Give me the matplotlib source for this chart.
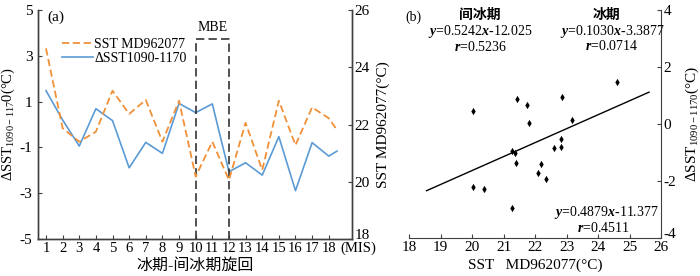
import matplotlib
matplotlib.use('Agg')
import numpy as np
import matplotlib.pyplot as plt

plt.rcParams['font.family'] = ['Liberation Serif', 'Noto Sans CJK SC']
plt.rcParams['mathtext.fontset'] = 'custom'
plt.rcParams['mathtext.rm'] = 'Liberation Serif'
plt.rcParams['mathtext.it'] = 'Liberation Serif:italic:bold'
plt.rcParams['axes.unicode_minus'] = False

# Panel (a): glacial-interglacial cycles
cycle = [1, 2, 3, 4, 5, 6, 7, 8, 9, 10, 11, 12, 13, 14, 15, 16, 17, 18, 18.5]
sst_md962077 = [24.66, 21.87, 21.40, 21.75, 23.18, 22.37, 22.86, 21.40, 22.83, 20.18,
                21.40, 20.06, 22.06, 20.41, 22.83, 21.28, 22.60, 22.22, 21.81]
dsst_1090_1170 = [1.48, 0.20, -0.94, 0.69, 0.17, -1.89, -0.78, -1.26, 0.92, 0.52,
                  0.90, -2.06, -1.67, -2.21, -0.53, -2.89, -0.79, -1.38, -1.16]
cycle_ticks = list(range(1, 19))
mbe_start, mbe_end, mbe_top = 10, 12, 3.72

# Panel (b): scatter of SST vs dSST
scatter_sst = [20.03, 21.41, 21.74, 21.81, 21.27, 21.37, 21.39, 22.18, 22.08, 22.36,
               20.03, 20.38, 21.25, 24.60, 22.84, 23.16, 22.81, 22.81, 22.61]
scatter_dsst = [0.46, 0.90, 0.69, 0.05, -0.92, -1.01, -1.34, -1.40, -1.69, -1.93,
                -2.18, -2.27, -2.94, 1.48, 0.94, 0.16, -0.53, -0.80, -0.82]
fit_slope, fit_intercept = 0.4879, -11.377
fit_x = [18.55, 25.62]

orange = '#F0913A'
blue = '#5B9BD5'
spine_col = '#404040'

fig = plt.figure(figsize=(7, 2.76), dpi=100)

# ---- panel (a)
ax1 = fig.add_axes([0.0543, 0.134, 0.4486, 0.8297])
ax2 = ax1.twinx()

l_blue, = ax1.plot(cycle, dsst_1090_1170, color=blue, linewidth=1.2)
l_orange, = ax2.plot(cycle, sst_md962077, color=orange, linewidth=1.3, dashes=(4, 2))

ax1.plot([mbe_start, mbe_start, mbe_end, mbe_end], [-5, mbe_top, mbe_top, -5],
         color='#333333', linewidth=1.2, dashes=(5, 2.5), clip_on=False)
ax1.text((mbe_start + mbe_end) / 2, mbe_top + 0.25, 'MBE', ha='center', va='bottom', fontsize=10)

ax1.set_xlim(0.52, 19.4)
ax1.set_ylim(-5, 5)
ax2.set_ylim(18, 26)
ax1.set_xticks(cycle_ticks)
ax1.set_yticks(np.arange(-5, 6, 2))
ax2.set_yticks(np.arange(18, 27, 2))

for ax in (ax1, ax2):
    ax.spines['top'].set_visible(False)
    for s in ax.spines.values():
        s.set_color(spine_col)
        s.set_linewidth(1.0)
    ax.tick_params(direction='in', length=3, width=0.8, labelsize=11, pad=2, color=spine_col)
ax1.tick_params(axis='x', labelsize=10.5)
ax1.tick_params(axis='y', pad=4)
# lowest right-axis label sits a bit higher, as in the reference
ax2.get_yticklabels()[0].set_va('baseline')

ax1.set_ylabel(r'ΔSST$_{1090-117}$0(°C)', fontsize=10.5, labelpad=2)
ax2.set_ylabel('SST MD962077(°C)', fontsize=11, labelpad=5)
ax1.set_xlabel('冰期-间冰期旋回', fontsize=11.5, labelpad=2)
ax1.annotate('(MIS)', xy=(0.962, 0), xycoords='axes fraction', xytext=(0, -2),
             textcoords='offset points', ha='left', va='top', fontsize=10.5)
ax1.text(0.03, 1.0, '(a)', transform=ax1.transAxes, ha='left', va='top', fontsize=11)

leg = ax2.legend([l_orange, l_blue], ['SST MD962077', 'ΔSST1090-1170'],
                 loc='upper left', bbox_to_anchor=(0.055, 0.91), frameon=False,
                 fontsize=10, handlelength=2.2, handletextpad=0.1, borderpad=0,
                 labelspacing=0.1)

# ---- panel (b)
ax3 = fig.add_axes([0.5847, 0.1359, 0.3596, 0.828])
ax3.scatter(scatter_sst, scatter_dsst, marker='d', s=14, color='black', linewidths=0)
fx = np.array(fit_x)
ax3.plot(fx, fit_slope * fx + fit_intercept, color='black', linewidth=1.0)

ax3.set_xlim(18, 26)
ax3.set_ylim(-4, 4)
ax3.set_xticks(range(18, 27))
ax3.set_yticks(range(-4, 5, 2))
ax3.yaxis.tick_right()
ax3.yaxis.set_label_position('right')
ax3.spines['left'].set_visible(False)
ax3.spines['top'].set_visible(False)
for s in ax3.spines.values():
    s.set_color(spine_col)
ax3.tick_params(direction='in', length=3, width=0.8, labelsize=11, pad=2, color=spine_col)
ax3.get_yticklabels()[0].set_va('baseline')
ax3.set_xlabel('SST   MD962077(°C)', fontsize=11, labelpad=3)
ax3.set_ylabel(r'ΔSST$_{1090-1170}$(°C)', fontsize=11, labelpad=5)

ax3.text(0.018, 0.97, '(b)', transform=ax3.transAxes, ha='center', va='center', fontsize=10)
ax3.text(0.281, 0.978, '间冰期', transform=ax3.transAxes, ha='center', va='center', fontsize=10, fontweight='bold')
ax3.text(0.281, 0.904, r'$\mathit{y}$=0.5242$\mathit{x}$-12.025', transform=ax3.transAxes, ha='center', va='center', fontsize=10)
ax3.text(0.281, 0.838, r'$\mathit{r}$=0.5236', transform=ax3.transAxes, ha='center', va='center', fontsize=10)
ax3.text(0.785, 0.978, '冰期', transform=ax3.transAxes, ha='center', va='center', fontsize=10, fontweight='bold')
ax3.text(0.805, 0.904, r'$\mathit{y}$=0.1030$\mathit{x}$-3.3877', transform=ax3.transAxes, ha='center', va='center', fontsize=10)
ax3.text(0.805, 0.842, r'$\mathit{r}$=0.0714', transform=ax3.transAxes, ha='center', va='center', fontsize=10)
ax3.text(0.785, 0.114, r'$\mathit{y}$=0.4879$\mathit{x}$-11.377', transform=ax3.transAxes, ha='center', va='center', fontsize=10)
ax3.text(0.769, 0.047, r'$\mathit{r}$=0.4511', transform=ax3.transAxes, ha='center', va='center', fontsize=10)

fig.savefig('out.png', dpi=100)
